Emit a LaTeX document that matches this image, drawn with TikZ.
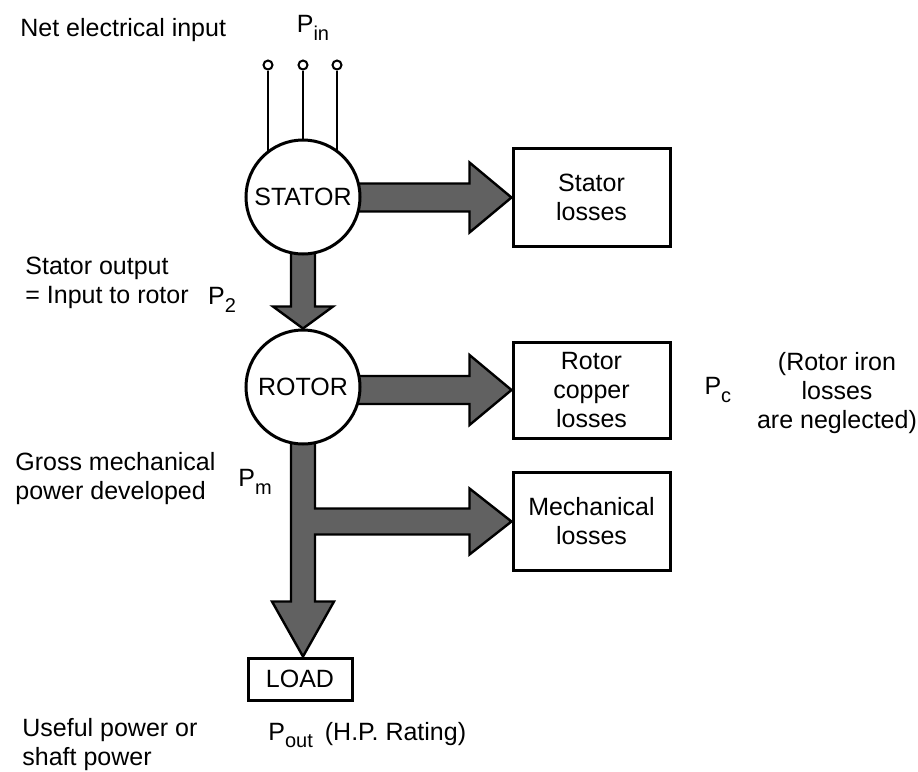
\documentclass[tikz,border=0pt]{standalone}
\usepackage{fontspec}
\setmainfont{Liberation Sans}
\usetikzlibrary{positioning,calc,backgrounds}

\tikzset{
  machine/.style={circle,draw,line width=1.5pt,fill=white,minimum size=57pt,inner sep=0pt},
  lossbox/.style={draw,line width=1.5pt,fill=white,minimum width=78.5pt,minimum height=49pt,align=center,inner sep=0pt},
  terminal/.style={circle,draw,line width=1pt,fill=white,minimum size=4.5pt,inner sep=0pt},
  sidetext/.style={align=left,inner sep=0pt,anchor=west},
  powerflow/.style={fill=black!62,draw=black,line width=1.2pt,line join=miter},
}
\newcommand{\psub}[1]{\raisebox{-0.6ex}{\fontsize{10}{10}\selectfont #1}}

\begin{document}
\begin{tikzpicture}[x=0.5pt,y=-0.5pt,font=\fontsize{12.5}{14.5}\selectfont]
  \useasboundingbox (0,0) rectangle (918,772);

  % machine and loss blocks
  \node[machine] (stator) at (303,197) {STATOR};
  \node[machine] (rotor) at (303,387) {ROTOR};
  \node[lossbox] (statloss) at (591.5,197.5) {Stator\\losses};
  \node[lossbox,minimum height=48pt] (rotloss) at (591.5,390) {Rotor\\copper\\losses};
  \node[lossbox] (mechloss) at (591.5,521.5) {Mechanical\\losses};
  \node[draw,line width=1.5pt,minimum width=52pt,minimum height=21pt,inner sep=0pt] (load) at (300,679) {LOAD};

  % supply terminals
  \foreach \n/\x in {1/268,2/303,3/337}
    \node[terminal] (t\n) at (\x,65) {};

  \begin{scope}[on background layer]
    \foreach \n in {1,2,3}
      \draw[line width=1pt] (t\n) -- (t\n |- stator.center);
    % stator losses
    \coordinate (s0) at (stator.center |- statloss.west);
    \draw[powerflow] ($(s0)+(0,-14)$) -- ($(statloss.west)+(-42,-14)$) -- ($(statloss.west)+(-42,-35)$)
      -- (statloss.west) -- ($(statloss.west)+(-42,35)$) -- ($(statloss.west)+(-42,14)$) -- ($(s0)+(0,14)$) -- cycle;
    % stator to rotor
    \draw[powerflow] ($(stator.center)+(-12,0)$) -- ($(rotor.north)+(-12,-22)$) -- ($(rotor.north)+(-30,-22)$)
      -- (rotor.north) -- ($(rotor.north)+(30,-22)$) -- ($(rotor.north)+(12,-22)$) -- ($(stator.center)+(12,0)$) -- cycle;
    % rotor copper losses
    \coordinate (r0) at (rotor.center |- rotloss.west);
    \draw[powerflow] ($(r0)+(0,-14)$) -- ($(rotloss.west)+(-42,-14)$) -- ($(rotloss.west)+(-42,-35)$)
      -- (rotloss.west) -- ($(rotloss.west)+(-42,35)$) -- ($(rotloss.west)+(-42,14)$) -- ($(r0)+(0,14)$) -- cycle;
    % mechanical losses and load
    \coordinate (b0) at (rotor.center |- mechloss.west);
    \coordinate (tipL) at (rotor.center |- load.north);
    \draw[powerflow] ($(rotor.center)+(-12,0)$) -- ($(rotor.center)+(12,0)$) -- ($(b0)+(12,-13)$)
      -- ($(mechloss.west)+(-42,-13)$) -- ($(mechloss.west)+(-42,-33)$) -- (mechloss.west)
      -- ($(mechloss.west)+(-42,33)$) -- ($(mechloss.west)+(-42,13)$) -- ($(b0)+(12,13)$)
      -- ($(tipL)+(12,-55)$) -- ($(tipL)+(31,-55)$) -- (tipL) -- ($(tipL)+(-31,-55)$)
      -- ($(tipL)+(-12,-55)$) -- cycle;
  \end{scope}

  % power labels
  \node[sidetext] (netin) at (20,30) {Net electrical input};
  \node (pin) at (313,28) {P\psub{in}};
  \node[sidetext] (statout) at (25,283) {Stator output\\= Input to rotor};
  \node (ptwo) at (222,300) {P\psub{2}};
  \node[sidetext] (gross) at (15,479) {Gross mechanical\\power developed};
  \node (pm) at (255,482) {P\psub{m}};
  \node[right=13pt of rotloss] (pc) {P\psub{c}};
  \node[align=center,inner sep=0pt] (ironnote) at (837,393) {(Rotor iron\\losses\\are neglected)};
  \node[sidetext] (useful) at (22,745) {Useful power or\\shaft power};
  \node[sidetext] (pout) at (268,735) {P\psub{out}\hspace{6pt}(H.P. Rating)};
\end{tikzpicture}
\end{document}
